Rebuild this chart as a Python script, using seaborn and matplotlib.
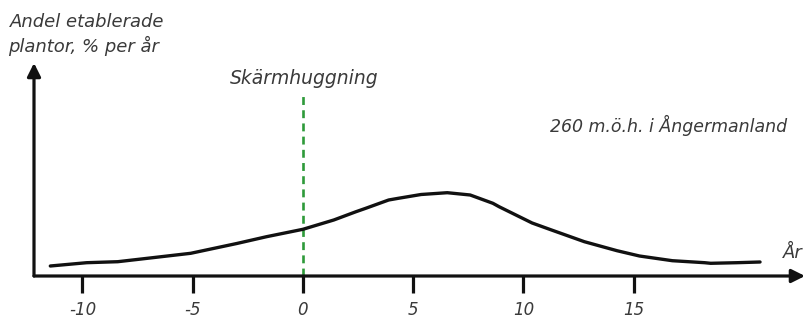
import matplotlib
matplotlib.use("Agg")
import matplotlib.pyplot as plt
import seaborn as sns
import pandas as pd

# Years relative to shelterwood cutting (Skärmhuggning at year 0)
years = [-11.46, -9.81, -8.4, -7.45, -5.09, -3.0, -1.65, 0.0, 1.40, 2.41,
         2.85, 3.89, 4.33, 5.36, 6.55, 7.59, 8.62, 8.9, 9.82, 10.4, 11.28,
         12.77, 14.25, 15.27, 16.76, 18.23, 18.5, 19.69, 20.74]
# Share of established seedlings, % per year (relative scale)
andel = [1.00, 1.33, 1.43, 1.67, 2.27, 3.25, 3.93, 4.67, 5.60, 6.43,
         6.77, 7.60, 7.77, 8.15, 8.33, 8.10, 7.27, 6.93, 5.93, 5.30, 4.60,
         3.43, 2.53, 2.00, 1.53, 1.33, 1.27, 1.33, 1.40]
xtick_values = [-10, -5, 0, 5, 10, 15]
xtick_labels = ["-10", "-5", "0", "5", "10", "15"]
cut_year = 0
cut_top = 18.1

sns.set_style("white")
plt.rcParams["font.family"] = ["DejaVu Sans"]

W, H = 808, 321
fig = plt.figure(figsize=(W / 100, H / 100), dpi=100)
ax = fig.add_axes([34 / W, 45 / H, 771 / W, 213 / H])

text_color = "#3a3a3a"

df = pd.DataFrame({"År": years, "Andel": andel})
sns.lineplot(data=df, x="År", y="Andel", ax=ax, color="#111111",
             linewidth=2.4, sort=False, estimator=None,
             solid_joinstyle="round", solid_capstyle="round")

ax.plot([cut_year, cut_year], [0, cut_top], color="#2e9a3a", lw=1.9,
        linestyle=(0, (3, 2)), zorder=1)

ax.set_xlim(-12.2, 22.78)
ax.set_ylim(0, 21.3)

for s in ax.spines.values():
    s.set_visible(False)

# Axes drawn as arrows
arrow_kw = dict(arrowstyle="-|>", lw=2.3, color="#111111", mutation_scale=20,
                shrinkA=0, shrinkB=0)
ax.annotate("", xy=(1, 0), xytext=(0, 0), xycoords="axes fraction",
            arrowprops=arrow_kw, annotation_clip=False)
ax.annotate("", xy=(0, 1), xytext=(0, 0), xycoords="axes fraction",
            arrowprops=arrow_kw, annotation_clip=False)

ax.set_xticks(xtick_values)
ax.set_xticklabels(xtick_labels, fontstyle="italic", fontsize=12,
                   color=text_color)
ax.set_yticks([])
ax.tick_params(axis="x", direction="out", length=12, width=2.3,
               color="#111111", pad=6, bottom=True)
ax.set_xlabel("")
ax.set_ylabel("")

fig.text(10 / W, 1 - 22 / H, "Andel etablerade", fontsize=13,
         fontstyle="italic", color=text_color, va="center", ha="left")
fig.text(8 / W, 1 - 46 / H, "plantor, % per år", fontsize=13,
         fontstyle="italic", color=text_color, va="center", ha="left")
fig.text(304 / W, 1 - 79 / H, "Skärmhuggning", fontsize=13.5,
         fontstyle="italic", color=text_color, va="center", ha="center")
fig.text(787 / W, 1 - 125 / H, "260 m.ö.h. i Ångermanland", fontsize=12.5,
         fontstyle="italic", color=text_color, va="center", ha="right")
fig.text(793 / W, 1 - 253 / H, "År", fontsize=13,
         fontstyle="italic", color=text_color, va="center", ha="center")

fig.savefig("out.png", dpi=100)
